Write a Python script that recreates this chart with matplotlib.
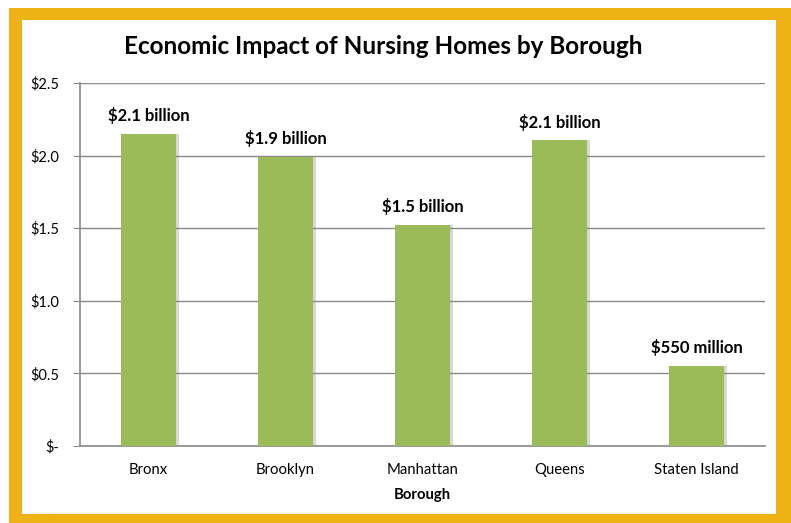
import matplotlib
matplotlib.use("Agg")
import matplotlib.pyplot as plt
from matplotlib.patches import Rectangle

boroughs = ['Bronx', 'Brooklyn', 'Manhattan', 'Queens', 'Staten Island']
impact = [2.15, 1.99, 1.525, 2.105, 0.55]  # $ billions
bar_labels = ['$2.1 billion', '$1.9 billion', '$1.5 billion', '$2.1 billion', '$550 million']
yticks = [0, 0.5, 1.0, 1.5, 2.0, 2.5]
ytick_labels = ['$-', '$0.5', '$1.0', '$1.5', '$2.0', '$2.5']

W, H = 791, 523
plt.rcParams['font.family'] = ['Lato', 'DejaVu Sans']

fig = plt.figure(figsize=(W / 100, H / 100), dpi=100)
fig.patch.set_facecolor('white')

# yellow frame (behind everything)
fig.patches.append(Rectangle((9 / W, 0), 782 / W, 1 - 8 / H, transform=fig.transFigure,
                             facecolor='#EEB215', edgecolor='none', zorder=-5))
fig.patches.append(Rectangle((22 / W, 9 / H), 754 / W, 1 - 29 / H, transform=fig.transFigure,
                             facecolor='white', edgecolor='none', zorder=-4))

ax = fig.add_axes([80 / W, 1 - 446 / H, 685 / W, 363 / H])
ax.set_facecolor('none')
x = list(range(len(boroughs)))

# soft shadow then bars
ax.bar([i + 0.025 for i in x], impact, width=0.4, color='#7f7f7f', alpha=0.3, zorder=2)
ax.bar(x, impact, width=0.4, color='#9BBB59', zorder=3)

for i, (v, lbl) in enumerate(zip(impact, bar_labels)):
    ax.annotate(lbl, (i, v), xytext=(0, 7), textcoords='offset points',
                ha='center', va='bottom', fontsize=12, fontweight='bold', color='black')

ax.set_xlim(-0.5, 4.5)
ax.set_ylim(0, 2.5)
ax.set_yticks(yticks)
ax.set_yticklabels(ytick_labels)
ax.set_xticks(x)
ax.set_xticklabels(boroughs)
ax.grid(axis='y', color='#8a8a8a', linewidth=1, zorder=1)
ax.set_axisbelow(True)

for s in ['top', 'right']:
    ax.spines[s].set_visible(False)
for s in ['left', 'bottom']:
    ax.spines[s].set_color('#8a8a8a')
    ax.spines[s].set_linewidth(1.2)

ax.tick_params(axis='y', length=5, color='#8a8a8a', labelsize=10.5, pad=10)
ax.tick_params(axis='x', length=0, labelsize=10.7, pad=12)
for t in ax.get_yticklabels():
    t.set_horizontalalignment('right')

ax.set_xlabel('Borough', fontsize=10.7, fontweight='bold', labelpad=8)

fig.text(383 / W, 1 - 47 / H, 'Economic Impact of Nursing Homes by Borough',
         ha='center', va='center', fontsize=17.5, fontweight='bold')

fig.savefig('out.png', dpi=100)
